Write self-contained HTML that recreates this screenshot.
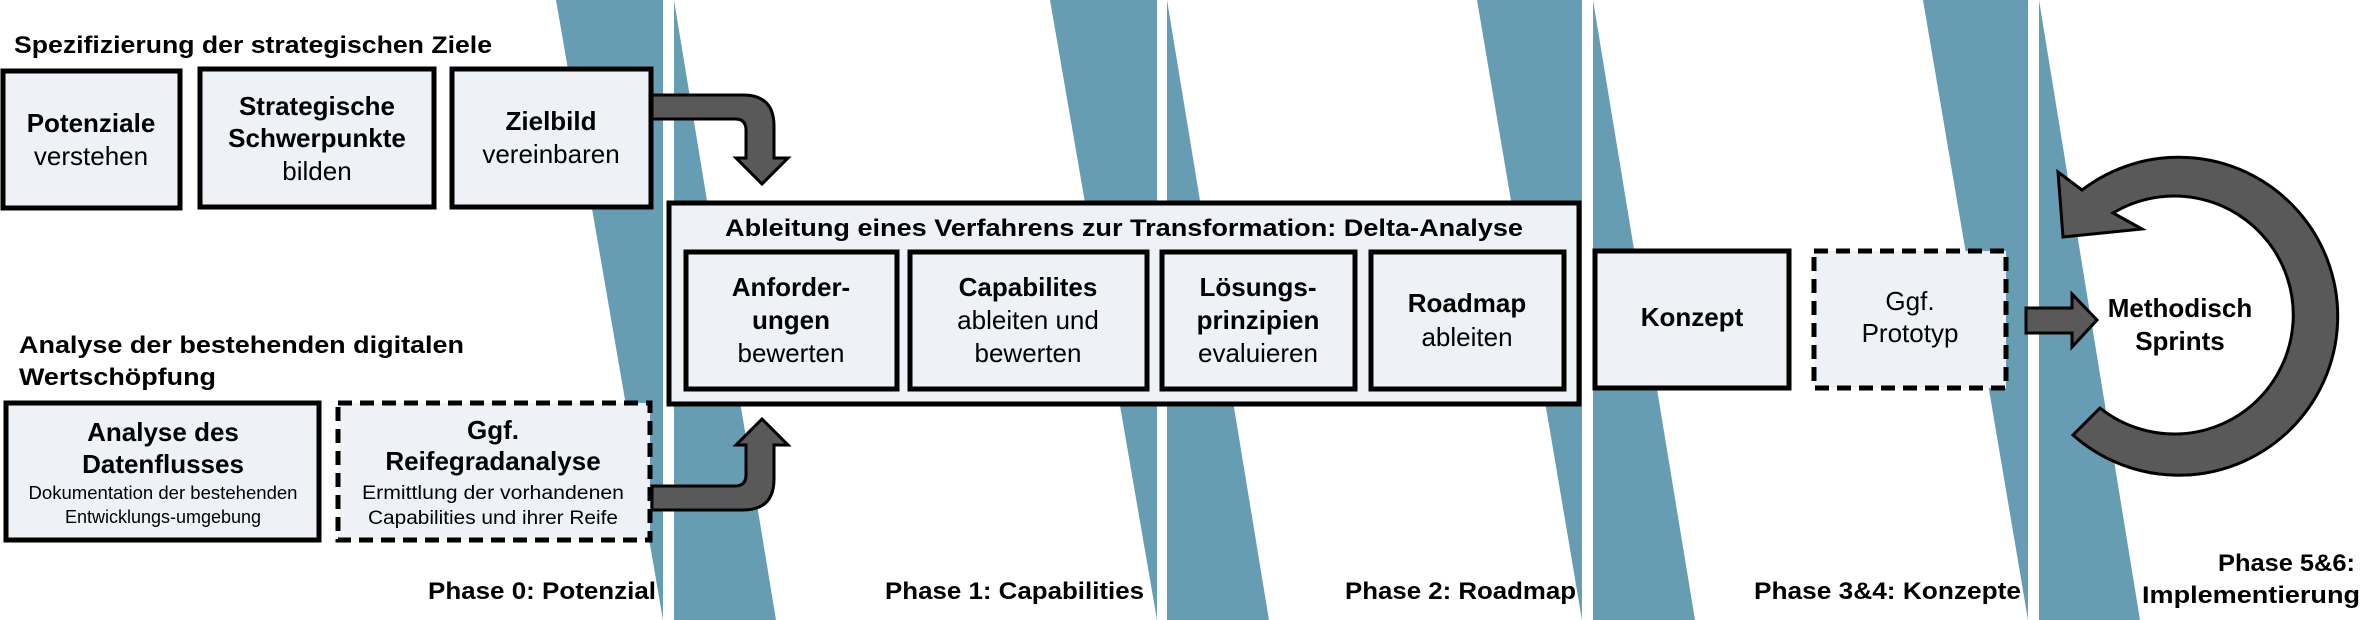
<!DOCTYPE html>
<html><head><meta charset="utf-8"><style>
html,body{margin:0;padding:0;background:#fff;}
svg{display:block;}
text{font-family:"Liberation Sans",sans-serif;fill:#000;}
.b{font-weight:bold;}
</style></head><body>
<svg width="2362" height="620" viewBox="0 0 2362 620" xmlns="http://www.w3.org/2000/svg">
<g fill="#679db3">
<polygon points="556,0 663,0 663,620"/>
<polygon points="674,0 674,620 776,620"/>
<polygon points="1050,0 1157,0 1157,620"/>
<polygon points="1167,0 1167,620 1269,620"/>
<polygon points="1477,0 1582,0 1582,620"/>
<polygon points="1593,0 1593,620 1695,620"/>
<polygon points="1923,0 2028,0 2028,620"/>
<polygon points="2039,0 2039,620 2140,620"/>
</g>

<text class="b" x="14" y="53" font-size="24" textLength="478" lengthAdjust="spacingAndGlyphs">Spezifizierung der strategischen Ziele</text>
<g fill="#eef1f5" stroke="#000" stroke-width="5">
<rect x="3" y="71" width="177" height="137"/>
<rect x="200" y="69" width="234" height="138"/>
<rect x="452" y="69" width="199" height="138"/>
</g>
<g text-anchor="middle" font-size="26">
<text class="b" x="91" y="132">Potenziale</text>
<text x="91" y="165">verstehen</text>
<text class="b" x="317" y="115">Strategische</text>
<text class="b" x="317" y="147">Schwerpunkte</text>
<text x="317" y="180">bilden</text>
<text class="b" x="551" y="130">Zielbild</text>
<text x="551" y="163">vereinbaren</text>
</g>

<text class="b" x="19" y="353" font-size="24" textLength="445" lengthAdjust="spacingAndGlyphs">Analyse der bestehenden digitalen</text>
<text class="b" x="19" y="385" font-size="24" textLength="197" lengthAdjust="spacingAndGlyphs">Wertschöpfung</text>
<rect x="6" y="403" width="313" height="137" fill="#eef1f5" stroke="#000" stroke-width="5"/>
<rect x="338" y="403" width="312" height="137" fill="#eef1f5" stroke="#000" stroke-width="5" stroke-dasharray="14,8"/>
<g text-anchor="middle">
<text class="b" x="163" y="441" font-size="26">Analyse des</text>
<text class="b" x="163" y="473" font-size="26">Datenflusses</text>
<text x="163" y="499" font-size="18" textLength="269" lengthAdjust="spacingAndGlyphs">Dokumentation der bestehenden</text>
<text x="163" y="523" font-size="18">Entwicklungs-umgebung</text>
<text class="b" x="493" y="439" font-size="26">Ggf.</text>
<text class="b" x="493" y="470" font-size="26">Reifegradanalyse</text>
<text x="493" y="499" font-size="19" textLength="262" lengthAdjust="spacingAndGlyphs">Ermittlung der vorhandenen</text>
<text x="493" y="524" font-size="19" textLength="250" lengthAdjust="spacingAndGlyphs">Capabilities und ihrer Reife</text>
</g>

<g fill="#595959" stroke="#000" stroke-width="3" stroke-linejoin="miter">
<path d="M652 95 L743 95 Q774 95 774 126 L774 158 L788 158 L762 184 L736 158 L746 158 L746 130 Q746 119 735 119 L652 119 Z"/>
<path d="M652 510 L743 510 Q774 510 774 479 L774 445 L788 445 L762 419 L736 445 L746 445 L746 475 Q746 486 735 486 L652 486 Z"/>
<path d="M2026 308 L2072 308 L2072 294 L2097 320 L2072 347 L2072 333 L2026 333 Z"/>
<path d="M2073 435 A159 159 0 1 0 2082 190 L2058 172 L2063 237 L2142 229 L2113 213 A119 119 0 1 1 2100 408 Z"/>
</g>

<rect x="669" y="203" width="910" height="201" fill="#eef1f5" stroke="#000" stroke-width="5"/>
<text class="b" x="725" y="236" font-size="24" textLength="798" lengthAdjust="spacingAndGlyphs">Ableitung eines Verfahrens zur Transformation: Delta-Analyse</text>
<g fill="#eef1f5" stroke="#000" stroke-width="5">
<rect x="686" y="252" width="211" height="137"/>
<rect x="910" y="252" width="237" height="137"/>
<rect x="1162" y="252" width="193" height="137"/>
<rect x="1371" y="252" width="193" height="137"/>
<rect x="1595" y="251" width="194" height="137"/>
</g>
<rect x="1814" y="251" width="192" height="137" fill="#eef1f5" stroke="#000" stroke-width="5" stroke-dasharray="14,8"/>
<g text-anchor="middle" font-size="26">
<text class="b" x="791" y="296">Anforder-</text>
<text class="b" x="791" y="329">ungen</text>
<text x="791" y="362">bewerten</text>
<text class="b" x="1028" y="296">Capabilites</text>
<text x="1028" y="329">ableiten und</text>
<text x="1028" y="362">bewerten</text>
<text class="b" x="1258" y="296">Lösungs-</text>
<text class="b" x="1258" y="329">prinzipien</text>
<text x="1258" y="362">evaluieren</text>
<text class="b" x="1467" y="312">Roadmap</text>
<text x="1467" y="346">ableiten</text>
<text class="b" x="1692" y="326">Konzept</text>
<text x="1910" y="310">Ggf.</text>
<text x="1910" y="342">Prototyp</text>
<text class="b" x="2180" y="317">Methodisch</text>
<text class="b" x="2180" y="350">Sprints</text>
</g>

<g class="b" font-size="24" font-weight="bold">
<text x="428" y="599" textLength="228" lengthAdjust="spacingAndGlyphs">Phase 0: Potenzial</text>
<text x="885" y="599" textLength="259" lengthAdjust="spacingAndGlyphs">Phase 1: Capabilities</text>
<text x="1345" y="599" textLength="231" lengthAdjust="spacingAndGlyphs">Phase 2: Roadmap</text>
<text x="1754" y="599" textLength="267" lengthAdjust="spacingAndGlyphs">Phase 3&amp;4: Konzepte</text>
<text x="2218" y="571" textLength="137" lengthAdjust="spacingAndGlyphs">Phase 5&amp;6:</text>
<text x="2142" y="603" textLength="218" lengthAdjust="spacingAndGlyphs">Implementierung</text>
</g>
</svg>
</body></html>
